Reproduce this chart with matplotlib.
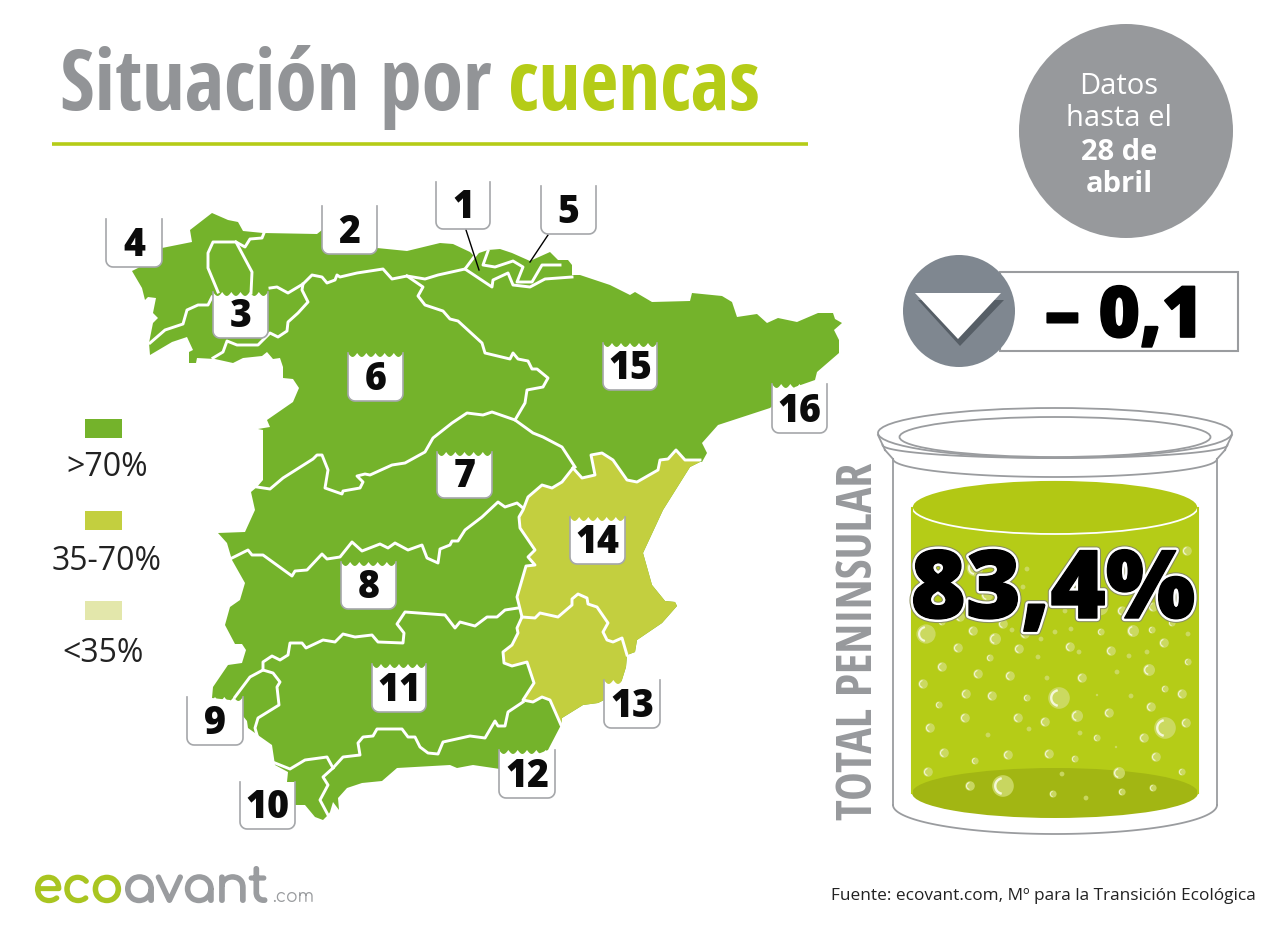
import numpy as np
import matplotlib

matplotlib.use("Agg")
import matplotlib.pyplot as plt
from matplotlib.patches import Circle, Ellipse, Polygon, Rectangle
import matplotlib.patheffects as pe

GREEN = "#74b32b"
YELLOW = "#c3cf3f"
PALE = "#e3e7ab"
LIME = "#b5cc17"
GREY = "#97999c"
CONDENSED = ["Open Sans Condensed", "PT Sans Narrow", "Fira Sans Condensed", "Open Sans", "DejaVu Sans"]
HEAVY = ["Open Sans", "DejaVu Sans"]
LOGO = ["Comfortaa", "Quicksand", "Lato", "DejaVu Sans"]

# map geometry in pixels
north_coast = [(132, 271), (138, 268), (162, 248), (192, 242), (190, 230), (212, 213), (228, 220), (238, 222),
               (243, 231), (263, 233), (317, 234), (322, 230), (377, 248), (407, 251), (440, 243), (453, 244),
               (470, 252), (473, 255), (488, 250), (500, 249), (512, 253), (530, 261), (550, 252), (558, 260),
               (568, 260), (572, 265), (572, 275), (580, 275), (610, 285), (630, 295), (635, 292), (652, 302),
               (690, 301), (692, 293), (722, 296), (732, 302), (737, 317), (757, 314), (767, 323), (778, 318),
               (797, 322), (818, 313), (833, 313), (835, 319), (842, 323), (834, 330), (839, 340), (839, 353),
               (817, 372), (815, 380), (795, 387), (770, 408), (718, 425), (702, 443), (707, 453), (702, 462)]
east_coast = [(700, 462), (690, 467), (663, 510), (643, 553), (652, 585), (665, 601), (675, 602), (677, 606),
              (662, 623), (637, 640), (635, 652), (627, 655)]
segura_coast = [(627, 655), (626, 667), (621, 683), (604, 700), (598, 703), (583, 705), (562, 718), (561, 725)]
south_coast = [(548, 750), (500, 769), (473, 765), (457, 768), (450, 765), (397, 768), (382, 781), (362, 783),
               (347, 788), (338, 798), (339, 810), (333, 802), (330, 812), (328, 815), (323, 820), (315, 817),
               (305, 805), (295, 805), (295, 782), (287, 782), (288, 772), (275, 765), (272, 745), (255, 733),
               (248, 728), (247, 721), (230, 700), (212, 698), (213, 687), (228, 665), (242, 663), (246, 650),
               (242, 644), (235, 644), (225, 625), (230, 607), (240, 600), (245, 583), (232, 560), (227, 543),
               (218, 533), (245, 532), (255, 510), (251, 492), (257, 487), (263, 480), (263, 430), (258, 429),
               (270, 427), (267, 420), (293, 402), (299, 388), (293, 379), (283, 378), (283, 367), (280, 358),
               (273, 359), (267, 352), (262, 356), (243, 358), (233, 363), (215, 359), (197, 358), (196, 363),
               (189, 363), (189, 352), (193, 350), (187, 337), (172, 342), (150, 355), (149, 343), (153, 323),
               (158, 318), (153, 313), (156, 298), (148, 297), (145, 300), (142, 288)]

jucar_north = [(573, 468), (582, 478), (595, 475), (591, 455), (602, 453), (613, 460), (627, 480), (637, 482),
               (658, 470), (660, 460), (668, 459), (676, 450), (685, 460), (700, 460)]
jucar_west = [(573, 468), (562, 482), (552, 488), (542, 485), (528, 497), (523, 510), (519, 517), (520, 528),
              (535, 550), (528, 557), (535, 565), (526, 566), (517, 597), (522, 617)]
segura_north = [(522, 617), (535, 618), (540, 613), (558, 617), (572, 605), (572, 599), (578, 594), (587, 598),
                (588, 604), (597, 607), (608, 623), (603, 632), (607, 640), (613, 642), (622, 638), (627, 655)]
segura_west = [(522, 617), (517, 628), (518, 633), (512, 645), (503, 652), (504, 663), (512, 666), (527, 662),
               (534, 683), (523, 700), (533, 702), (542, 697), (550, 700), (561, 725)]

inner_borders = [
    # cantabrico / duero / ebro
    [(270, 288), (277, 287), (288, 293), (303, 284), (312, 275), (322, 277), (327, 283), (335, 280), (337, 275),
     (340, 277), (357, 273), (383, 269), (392, 279), (407, 276), (425, 279), (438, 275), (465, 269), (492, 287),
     (493, 280), (508, 273), (513, 285), (530, 287), (545, 279), (572, 277)],
    # duero / ebro
    [(407, 276), (423, 287), (418, 296), (425, 305), (443, 311), (450, 319), (458, 321), (482, 343), (485, 353),
     (510, 359), (513, 353), (518, 359), (528, 361), (532, 369), (537, 369), (548, 378), (543, 387), (527, 390),
     (525, 403), (515, 420)],
    # duero / tajo
    [(257, 487), (270, 489), (283, 478), (313, 459), (317, 455), (322, 455), (328, 470), (325, 488), (342, 494),
     (343, 491), (360, 488), (363, 482), (357, 476), (365, 474), (370, 475), (392, 465), (405, 463), (425, 452),
     (433, 438), (452, 423), (467, 413), (483, 415), (492, 412), (515, 420), (533, 433), (543, 437), (562, 447),
     (575, 467)],
    # tajo / guadiana
    [(230, 559), (248, 550), (252, 555), (263, 555), (292, 576), (295, 571), (307, 570), (322, 554), (327, 559),
     (340, 557), (352, 542), (362, 551), (380, 544), (388, 548), (395, 543), (408, 550), (422, 545), (427, 558),
     (438, 563), (440, 549), (450, 545), (452, 541), (458, 541), (465, 530), (482, 517), (498, 502), (505, 507),
     (517, 503), (523, 508)],
    # guadiana / guadalquivir
    [(263, 670), (263, 662), (272, 656), (280, 660), (288, 655), (290, 643), (302, 643), (306, 648), (323, 640),
     (335, 642), (343, 634), (355, 637), (372, 635), (378, 642), (403, 643), (404, 633), (397, 624), (405, 612),
     (445, 615), (455, 628), (460, 622), (475, 626), (487, 617), (497, 617), (505, 610), (518, 608)],
    # tinto-odiel
    [(235, 697), (250, 677), (263, 670), (273, 673), (280, 682), (277, 687), (279, 705), (258, 718), (255, 728),
     (257, 735)],
    # guadalete
    [(275, 763), (290, 769), (305, 760), (327, 757), (333, 768)],
    # mediterranea andaluza
    [(328, 815), (320, 800), (328, 785), (323, 777), (333, 768), (343, 757), (360, 755), (358, 743), (363, 737),
     (373, 736), (377, 729), (402, 729), (408, 737), (415, 737), (420, 747), (428, 753), (438, 754), (443, 742),
     (470, 736), (485, 738), (495, 721), (498, 726), (505, 726), (508, 712), (523, 702)],
    # galicia / mino-sil
    [(150, 343), (165, 330), (183, 324), (187, 310), (198, 305), (208, 305), (212, 297)],
    [(218, 292), (208, 268), (208, 253), (213, 242), (236, 242), (252, 272), (251, 293)],
    [(236, 242), (245, 247), (250, 239), (262, 238), (264, 233)],
    [(303, 284), (302, 290), (308, 302), (298, 313), (288, 322), (287, 331), (278, 337), (270, 333), (258, 345),
     (237, 345), (227, 341), (223, 352), (213, 358)],
    # cuencas internas del pais vasco
    [(465, 269), (477, 253)],
    [(488, 251), (483, 265), (495, 267), (513, 261), (523, 267), (517, 282), (532, 282), (542, 265), (560, 265)],
]

leader_lines = [[(466, 230), (479, 270)], [(548, 235), (530, 262)]]

# number labels: text, left, top, right, bottom
label_names = ["1", "2", "3", "4", "5", "6", "7", "8", "9", "10", "11", "12", "13", "14", "15", "16"]
label_left = [436, 322, 213, 106, 541, 348, 437, 341, 187, 240, 372, 499, 604, 570, 603, 772]
label_top = [182, 206, 292, 219, 186, 353, 452, 562, 697, 782, 664, 750, 680, 517, 343, 384]
label_right = [490, 377, 268, 162, 596, 403, 492, 396, 243, 295, 426, 555, 660, 625, 657, 827]
label_bottom = [229, 254, 338, 267, 234, 401, 498, 609, 745, 829, 712, 798, 728, 564, 390, 433]

legend_labels = [">70%", "35-70%", "<35%"]
legend_colors = [GREEN, YELLOW, PALE]
legend_box_y = [419, 511, 601]
legend_text_x = [107, 107, 103]
legend_text_y = [468, 562, 654]

info_lines = ["Datos", "hasta el", "28 de", "abril"]
info_weights = ["normal", "normal", "bold", "bold"]
info_y = [86, 119, 152, 185]

# bubbles in the jar, x / y / radius in pixels
bubble_x = [1187, 1027, 1023, 975, 987, 942, 960, 973, 1003, 1012, 1025, 995, 1055, 1071, 1101, 1133, 1152, 1172,
            1188, 958, 1019, 1041, 1070, 1079, 1111, 1164, 1147, 1129, 1038, 990, 942, 978, 1010, 1047, 1082, 1117,
            1149, 1188, 923, 966, 992, 1027, 1097, 1131, 1165, 1182, 939, 1151, 1109, 965, 1018, 1045, 1077, 1186,
            930, 1029, 988, 1080, 1097, 1144, 944, 1008, 1049, 1116, 1156, 975, 1075, 928, 1062, 1119, 1182, 970,
            1153, 1053, 1122, 1086, 926, 1059, 1165, 1003, 1100, 1065, 1153, 1122, 1190]
bubble_y = [551, 569, 587, 568, 595, 622, 617, 631, 624, 630, 634, 639, 632, 629, 632, 631, 630, 623,
            634, 648, 649, 639, 647, 652, 651, 643, 652, 656, 657, 658, 667, 674, 676, 678, 678, 672,
            670, 662, 684, 694, 696, 698, 695, 696, 689, 694, 705, 707, 713, 718, 718, 722, 716, 723,
            728, 729, 735, 733, 738, 738, 753, 755, 754, 747, 757, 761, 759, 772, 774, 773, 772, 786,
            788, 794, 792, 798, 634, 698, 728, 786, 607, 611, 607, 611, 613]
bubble_r = [4, 2, 2, 7, 5, 3, 4, 4, 4, 2, 4, 5, 2, 2, 3, 5, 3, 3,
            2, 4, 4, 2, 4, 2, 4, 4, 2, 2, 2, 3, 4, 4, 4, 2, 4, 2,
            5, 3, 4, 4, 4, 3, 1, 2, 3, 4, 3, 4, 4, 4, 4, 4, 5, 4,
            4, 2, 2, 2, 3, 4, 4, 4, 4, 1, 4, 3, 3, 4, 2, 5, 3, 4,
            3, 3, 3, 2, 8, 9, 9, 9, 7, 2, 4, 4, 2]


def half_ellipse(cx, cy, w, h, n=80):
    t = np.linspace(0, np.pi, n)
    return cx + w / 2 * np.cos(t), cy + h / 2 * np.sin(t)


def label_outline(left, top, right, bottom, radius=7, waves=6):
    # scalloped top edge, rounded bottom corners
    t = np.linspace(0, 1, waves * 8 + 1)
    top_x = left + (right - left) * t
    top_y = top + 4 * np.abs(np.sin(np.pi * waves * t))
    a = np.linspace(0, np.pi / 2, 8)
    right_x = right - radius + radius * np.cos(a)
    right_y = bottom - radius + radius * np.sin(a)
    left_x = left + radius - radius * np.sin(a)
    left_y = bottom - radius + radius * np.cos(a)
    side_x = np.r_[left, left_x[::-1], right_x[::-1], right]
    side_y = np.r_[top, left_y[::-1], right_y[::-1], top]
    box = np.column_stack([np.r_[top_x, right_x, left_x], np.r_[top_y, right_y, left_y]])
    return box, side_x, side_y


def fit_width(text, width):
    # scale the font so the text spans the measured width in pixels
    box = text.get_window_extent(fig.canvas.get_renderer())
    span = box.height if text.get_rotation() == 90 else box.width
    text.set_fontsize(text.get_fontsize() * width / span)
    return text


fig = plt.figure(figsize=(12.8, 9.33), dpi=100)
ax = fig.add_axes([0, 0, 1, 1])
ax.set_xlim(0, 1280)
ax.set_ylim(933, 0)
ax.axis("off")

# header
title_style = dict(family=CONDENSED, weight="bold", fontsize=60, va="baseline", ha="left")
fit_width(ax.text(60, 110, "Situación por", color="#929497", **title_style), 432)
fit_width(ax.text(508, 110, "cuencas", color=LIME, **title_style), 252)
ax.plot([52, 808], [144, 144], color=LIME, lw=2.6, solid_capstyle="butt")

ax.add_patch(Circle((1126, 131), 107, fc=GREY, ec="none"))
for line, weight, y in zip(info_lines, info_weights, info_y):
    ax.text(1119, y, line, color="white", family="Open Sans", weight=weight, fontsize=21, ha="center", va="center")

# map
outline = north_coast + east_coast + segura_coast + south_coast
ax.add_patch(Polygon(outline, fc=GREEN, ec="none", zorder=2))
jucar = jucar_north + east_coast + segura_north[::-1] + jucar_west[::-1]
segura = segura_north + segura_coast + segura_west[::-1]
for shape in (jucar, segura):
    ax.add_patch(Polygon(shape, fc=YELLOW, ec="none", zorder=2.1))
for border in inner_borders + [jucar_north, jucar_west, segura_north, segura_west]:
    xs, ys = zip(*border)
    ax.plot(xs, ys, color="white", lw=2.1, solid_joinstyle="round", zorder=3)

for line in leader_lines:
    xs, ys = zip(*line)
    ax.plot(xs, ys, color="black", lw=1, zorder=4)

for name, left, top, right, bottom in zip(label_names, label_left, label_top, label_right, label_bottom):
    box, side_x, side_y = label_outline(left, top, right, bottom)
    ax.add_patch(Polygon(box, fc="white", ec="none", zorder=5))
    ax.plot(side_x, side_y, color="#a5a7aa", lw=1.2, zorder=6)
    ax.text((left + right) / 2, bottom - 11, name, family=HEAVY, weight=800, fontsize=27, color="#0b0b0b",
            ha="center", va="baseline", zorder=7)

# legend
for name, color, box_y, text_x, text_y in zip(legend_labels, legend_colors, legend_box_y, legend_text_x, legend_text_y):
    ax.add_patch(Rectangle((85, box_y), 37, 19, fc=color, ec="none"))
    ax.text(text_x, text_y, name, family="Open Sans", fontsize=23, color="#222222", ha="center", va="center")

# weekly change
ax.add_patch(Rectangle((1000, 272), 238, 79, fc="white", ec="#9a9c9f", lw=1.5))
ax.add_patch(Circle((959, 311), 56, fc="#7f8790", ec="none"))
ax.add_patch(Polygon([(918, 300), (1004, 300), (960, 346)], fc="#565e66", ec="none"))
ax.add_patch(Polygon([(915, 293), (1001, 293), (958, 339)], fc="white", ec="none"))
ax.text(1124, 337, "– 0,1", family=HEAVY, weight=800, fontsize=51, color="black", ha="center", va="baseline",
        path_effects=[pe.withStroke(linewidth=1.2, foreground="black")])

# jar
jar_edge = dict(color="#9a9c9f", lw=1.3)
ax.add_patch(Ellipse((1055, 433), 354, 50, fc="white", ec="#9a9c9f", lw=1.3))
ax.add_patch(Ellipse((1055, 437), 311, 40, fc="white", ec="#9a9c9f", lw=1.3))
ax.plot(*half_ellipse(1055, 445, 345, 26), **jar_edge)
ax.plot(*half_ellipse(1055, 459, 324, 36), **jar_edge)
ax.plot([878, 885], [435, 450], **jar_edge)
ax.plot([1232, 1225], [435, 450], **jar_edge)
ax.plot([885, 893], [450, 459], **jar_edge)
ax.plot([1225, 1217], [450, 459], **jar_edge)
ax.plot([893, 893], [459, 805], **jar_edge)
ax.plot([1217, 1217], [459, 805], **jar_edge)
ax.plot(*half_ellipse(1055, 805, 324, 58), **jar_edge)

ax.add_patch(Rectangle((912, 507), 286, 286, fc=LIME, ec="none", zorder=2))
ax.add_patch(Ellipse((1055, 793), 286, 50, fc="#a2b613", ec="none", zorder=2.1))
ax.add_patch(Ellipse((1055, 507), 286, 54, fc="#b2c814", ec="white", lw=1.3, zorder=2.2))
ax.plot([912, 912], [508, 793], color=LIME, lw=1.5, zorder=2.3)
ax.plot([1198, 1198], [508, 793], color=LIME, lw=1.5, zorder=2.3)

for x, y, r in zip(bubble_x, bubble_y, bubble_r):
    r = r * 1.2
    ax.add_patch(Circle((x, y), r, fc="#cfdc6e", ec="none", alpha=0.85, zorder=3))
    if r >= 3:
        a = np.linspace(0.6 * np.pi, 1.4 * np.pi, 20)
        ax.plot(x + 0.72 * r * np.cos(a), y + 0.72 * r * np.sin(a), color="#f4f7d8", lw=max(0.6, r * 0.16), zorder=3.1)

ax.text(1053, 618, "83,4%", family=HEAVY, weight=800, fontsize=68, color="black", ha="center", va="baseline", zorder=5,
        path_effects=[pe.withStroke(linewidth=6, foreground="#8b8f60"), pe.withStroke(linewidth=4.5, foreground="white"),
                      pe.withStroke(linewidth=1, foreground="black"), pe.Normal()])

fit_width(ax.text(860, 641, "TOTAL PENINSULAR", family=CONDENSED, weight="bold", fontsize=37, color=GREY, rotation=90,
                  ha="center", va="center"), 358)

# footer
logo_style = dict(family=LOGO, weight="bold", va="baseline", ha="left")
logo_stroke = [pe.withStroke(linewidth=1.4, foreground="#a9c520")]
eco = fit_width(ax.text(33, 902, "eco", fontsize=40, color="#a9c520", path_effects=logo_stroke, **logo_style), 90)
avant = ax.text(123, 902, "avant", fontsize=eco.get_fontsize(), color="#9a9c9f",
                path_effects=[pe.withStroke(linewidth=1.4, foreground="#9a9c9f")], **logo_style)
fit_width(avant, 145)
ax.text(272, 902, ".com", family=LOGO, fontsize=12.5, color="#9a9c9f", va="baseline", ha="left")
ax.text(1256, 896, "Fuente: ecovant.com, Mº para la Transición Ecológica", family="Open Sans", fontsize=12.4,
        color="#222222", ha="right", va="center")

fig.savefig("out.png", dpi=100)
